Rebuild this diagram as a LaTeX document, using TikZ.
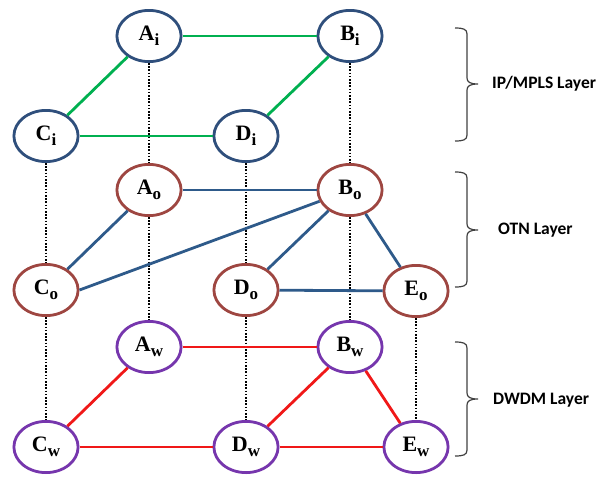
\documentclass[tikz,border=0pt]{standalone}
\usepackage{fontspec}
\setmainfont{Liberation Serif}
\newfontfamily\layerfont{Carlito}
\usetikzlibrary{shapes.geometric}

% outline and link colours of the three layers
\definecolor{ipnode}{HTML}{2F4F7C}
\definecolor{otnnode}{HTML}{9E4641}
\definecolor{wdmnode}{HTML}{7636AD}
\definecolor{iplinkcol}{HTML}{00B050}
\definecolor{otnlinkcol}{HTML}{2E5A8A}
\definecolor{wdmlinkcol}{HTML}{F01818}
\definecolor{bracecol}{HTML}{404040}

% lowered subscript of a node name
\newcommand\lsub[1]{\raisebox{-5pt}{\fontsize{17}{17}\selectfont\bfseries #1}}

% right curly brace: top y, tip y, bottom y
\newcommand\layerbrace[3]{%
  \draw[bracket] (455,#1) .. controls (463,#1) and (467,{#1+1}) .. (467,{#1+6})
    -- (467,{#2-6}) .. controls (467,{#2-2}) and (470,#2) .. (478,#2)
    .. controls (470,#2) and (467,{#2+2}) .. (467,{#2+6})
    -- (467,{#3-6}) .. controls (467,{#3-1}) and (463,#3) .. (455,#3);}

\begin{document}
\begin{tikzpicture}[x=1pt,y=-1pt,
  router/.style={ellipse, draw, line width=2.8pt, minimum width=64.2pt,
    minimum height=51.2pt, inner sep=0pt, fill=white,
    font=\fontsize{22}{22}\selectfont\bfseries},
  ipr/.style={router, draw=ipnode},
  otnr/.style={router, draw=otnnode},
  wdmr/.style={router, draw=wdmnode},
  iplink/.style={line width=2.8pt, draw=iplinkcol},
  otnlink/.style={line width=2.8pt, draw=otnlinkcol},
  wdmlink/.style={line width=2.8pt, draw=wdmlinkcol},
  vlink/.style={line width=1.7pt, draw=black, dash pattern=on 1.6pt off 1.6pt},
  bracket/.style={line width=1.2pt, draw=bracecol},
  layerlabel/.style={anchor=west, inner sep=0pt,
    font=\layerfont\bfseries\fontsize{17.5}{18}\selectfont}
]
\useasboundingbox (0,0) rectangle (602,477);

% IP/MPLS layer
\node[ipr] (Ai) at (149,36) {A\lsub{i}};
\node[ipr] (Bi) at (350,36) {B\lsub{i}};
\node[ipr] (Ci) at (46,136) {C\lsub{i}};
\node[ipr] (Di) at (246,136) {D\lsub{i}};

% OTN layer
\node[otnr] (Ao) at (149,190) {A\lsub{o}};
\node[otnr] (Bo) at (350,190) {B\lsub{o}};
\node[otnr] (Co) at (46,290) {C\lsub{o}};
\node[otnr] (Do) at (246,290) {D\lsub{o}};
\node[otnr] (Eo) at (416,291) {E\lsub{o}};

% DWDM layer
\node[wdmr] (Aw) at (149,347) {A\lsub{w}};
\node[wdmr] (Bw) at (350,347) {B\lsub{w}};
\node[wdmr] (Cw) at (46,447) {C\lsub{w}};
\node[wdmr] (Dw) at (246,447) {D\lsub{w}};
\node[wdmr] (Ew) at (416,447) {E\lsub{w}};

% vertical mapping between layers
\draw[vlink] (Ai) -- (Ao);
\draw[vlink] (Ao) -- (Aw);
\draw[vlink] (Bi) -- (Bo);
\draw[vlink] (Bo) -- (Bw);
\draw[vlink] (Ci) -- (Co);
\draw[vlink] (Co) -- (Cw);
\draw[vlink] (Di) -- (Do);
\draw[vlink] (Do) -- (Dw);
\draw[vlink] (Eo) -- (Ew);

% IP/MPLS links
\draw[iplink] (Ai) -- (Bi);
\draw[iplink] (Ai) -- (Ci);
\draw[iplink] (Ci) -- (Di);
\draw[iplink] (Di) -- (Bi);

% OTN links
\draw[otnlink] (Ao) -- (Bo);
\draw[otnlink] (Ao) -- (Co);
\draw[otnlink] (Co.east) -- (Bo);
\draw[otnlink] (Do) -- (Bo);
\draw[otnlink] (Do) -- (Eo);
\draw[otnlink] (Bo) -- (Eo);

% DWDM links
\draw[wdmlink] (Aw) -- (Bw);
\draw[wdmlink] (Aw) -- (Cw);
\draw[wdmlink] (Cw) -- (Dw);
\draw[wdmlink] (Dw) -- (Bw);
\draw[wdmlink] (Bw) -- (Ew);
\draw[wdmlink] (Dw) -- (Ew);

% layer braces and names
\layerbrace{28}{84}{141}
\layerbrace{172}{230}{287}
\layerbrace{342}{399}{456}
\node[layerlabel] (iplabel) at (492,84) {IP/MPLS Layer};
\node[layerlabel] (otnlabel) at (498,230) {OTN Layer};
\node[layerlabel] (wdmlabel) at (493,400) {DWDM Layer};
\end{tikzpicture}
\end{document}
